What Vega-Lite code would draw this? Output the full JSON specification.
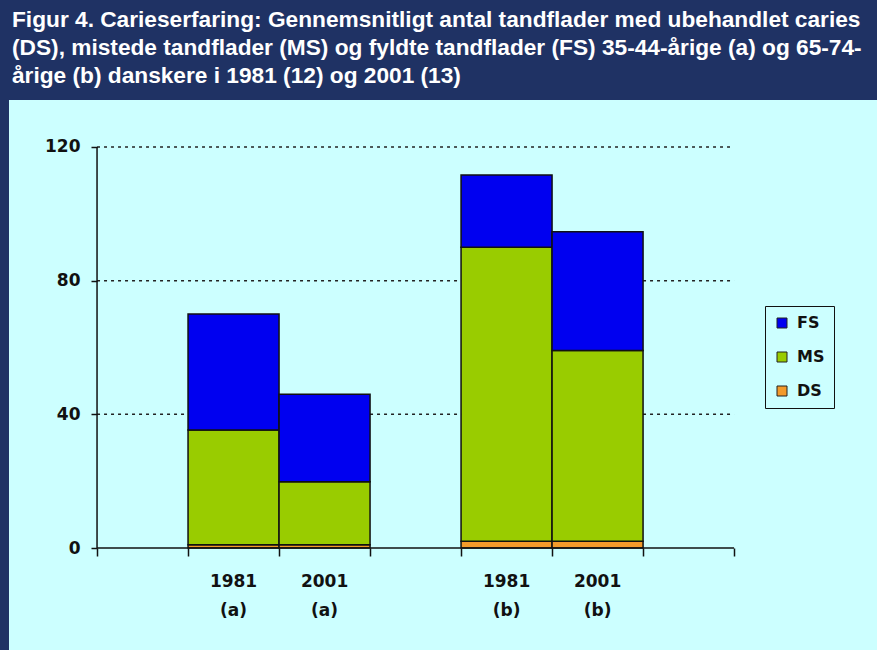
{
  "$schema": "https://vega.github.io/schema/vega-lite/v6.json",
  "width": 868,
  "height": 550,
  "autosize": {"type": "none"},
  "padding": {"left": 9, "top": 100, "right": 0, "bottom": 0},
  "background": "#1F3264",
  "title": {
    "text": ["Figur 4. Carieserfaring: Gennemsnitligt antal tandflader med ubehandlet caries", "(DS), mistede tandflader (MS) og fyldte tandflader (FS) 35-44-årige (a) og 65-74-", "årige (b) danskere i 1981 (12) og 2001 (13)"],
    "anchor": "start",
    "frame": "group",
    "color": "#FFFFFF",
    "font": "Liberation Sans",
    "fontSize": 22.7,
    "fontWeight": "bold",
    "lineHeight": 28,
    "offset": 12,
    "dx": 3
  },
  "config": {
    "view": {"fill": "#CCFFFF", "stroke": null}
  },
  "layer": [
    {
      "data": {"values": [{"v": 40}, {"v": 80}, {"v": 120}]},
      "mark": {"type": "rule", "color": "#222222", "strokeWidth": 1.5, "strokeDash": [3, 4]},
      "encoding": {
        "x": {"datum": "_0", "type": "nominal", "bandPosition": 0},
        "x2": {"datum": "_7", "bandPosition": 0},
        "y": {"field": "v", "type": "quantitative", "title": null}
      }
    },
    {
      "data": {"values": [
        {"group": "1981 (a)", "type": "DS", "value": 1.0},
        {"group": "1981 (a)", "type": "MS", "value": 34.3},
        {"group": "1981 (a)", "type": "FS", "value": 34.7},
        {"group": "2001 (a)", "type": "DS", "value": 1.0},
        {"group": "2001 (a)", "type": "MS", "value": 18.8},
        {"group": "2001 (a)", "type": "FS", "value": 26.2},
        {"group": "1981 (b)", "type": "DS", "value": 2.0},
        {"group": "1981 (b)", "type": "MS", "value": 88.0},
        {"group": "1981 (b)", "type": "FS", "value": 21.6},
        {"group": "2001 (b)", "type": "DS", "value": 2.0},
        {"group": "2001 (b)", "type": "MS", "value": 57.1},
        {"group": "2001 (b)", "type": "FS", "value": 35.5}
      ]},
      "transform": [{"window": [{"op": "row_number", "as": "idx"}]}],
      "mark": {"type": "bar", "stroke": "#111111", "strokeWidth": 1.5},
      "encoding": {
        "x": {
          "field": "group",
          "type": "nominal",
          "title": null,
          "scale": {
            "domain": ["_0", "1981 (a)", "2001 (a)", "_3", "1981 (b)", "2001 (b)", "_6", "_7"],
            "paddingInner": 0,
            "paddingOuter": 0.769,
            "align": 0.629
          },
          "axis": {
            "domain": false,
            "grid": false,
            "bandPosition": 0,
            "tickSize": 8,
            "tickWidth": 1.5,
            "tickColor": "#111111",
            "labelAngle": 0,
            "labelAlign": "center",
            "labelOffset": 0,
            "labelExpr": "datum.value[0] == '_' ? '' : split(datum.value, ' ')",
            "labelFont": "DejaVu Sans",
            "labelFontWeight": "bold",
            "labelFontSize": 17,
            "labelColor": "#111111",
            "labelLineHeight": 29,
            "labelPadding": 25,
            "offset": -102
          }
        },
        "y": {
          "field": "value",
          "type": "quantitative",
          "title": null,
          "scale": {"domain": [-30.52, 134.06], "nice": false, "zero": false},
          "axis": {
            "values": [0, 40, 80, 120],
            "domain": false,
            "grid": false,
            "tickSize": 6,
            "tickWidth": 1.5,
            "tickColor": "#111111",
            "labelFont": "DejaVu Sans",
            "labelFontWeight": "bold",
            "labelFontSize": 17,
            "labelColor": "#111111",
            "labelPadding": 11,
            "offset": -88
          }
        },
        "order": {"field": "idx", "type": "quantitative"},
        "color": {
          "field": "type",
          "type": "nominal",
          "scale": {"domain": ["FS", "MS", "DS"], "range": ["#0000F0", "#99CC00", "#F39A2B"]},
          "legend": {
            "title": null,
            "orient": "none",
            "legendX": 756,
            "legendY": 206,
            "direction": "vertical",
            "strokeColor": "#111111",
            "padding": 9,
            "rowPadding": 18,
            "symbolType": "square",
            "symbolSize": 100,
            "symbolStrokeColor": "#222222",
            "symbolStrokeWidth": 1,
            "labelFont": "DejaVu Sans",
            "labelFontWeight": "bold",
            "labelFontSize": 16,
            "labelColor": "#111111",
            "labelOffset": 7
          }
        }
      }
    },
    {
      "data": {"values": [{}]},
      "mark": {"type": "rule", "color": "#111111", "strokeWidth": 1.5},
      "encoding": {
        "x": {"datum": "_0", "type": "nominal", "bandPosition": 0},
        "y": {"datum": 0, "type": "quantitative"},
        "y2": {"datum": 120}
      }
    },
    {
      "data": {"values": [{}]},
      "mark": {"type": "rule", "color": "#111111", "strokeWidth": 1.5},
      "encoding": {
        "x": {"datum": "_0", "type": "nominal", "bandPosition": 0},
        "x2": {"datum": "_7", "bandPosition": 0},
        "y": {"datum": 0, "type": "quantitative"}
      }
    }
  ]
}
